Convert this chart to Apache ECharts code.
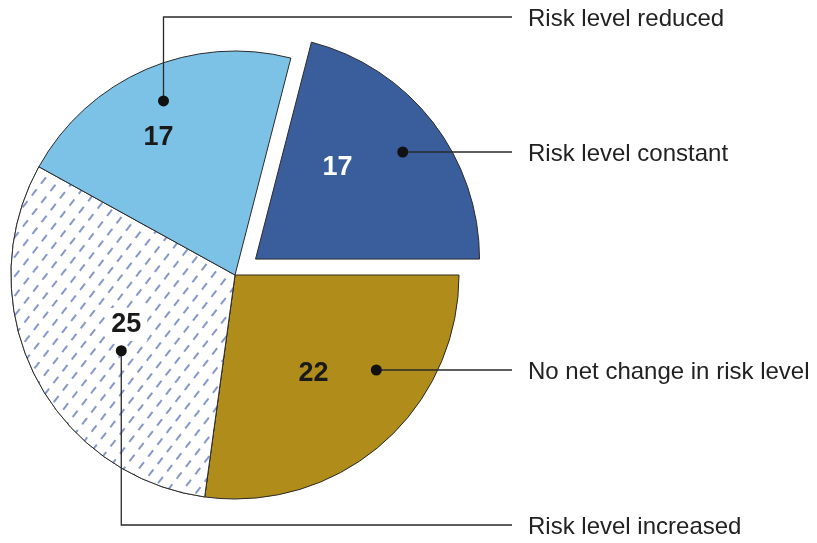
<!DOCTYPE html>
<html>
<head>
<meta charset="utf-8">
<script src="https://cdn.jsdelivr.net/npm/echarts@6/dist/echarts.min.js"></script>
<style>
  html, body { margin: 0; padding: 0; background: #fff; }
  #chart { width: 817px; height: 543px; }
</style>
</head>
<body>
<div id="chart"></div>
<script>
// slices in clockwise order, starting at 3 o'clock
var categories = ['No net change in risk level', 'Risk level increased', 'Risk level reduced', 'Risk level constant'];
var values = [22, 25, 17, 17];

var sliceColors = ['#b08c1b', '#ffffff', '#7cc2e6', '#3a5e9c'];
var labelColors = ['#1a1a1a', '#1a1a1a', '#1a1a1a', '#ffffff'];
// nudges for value labels from the default inside spot (applied on both layout passes)
var labelNudge = [[1.5, 6], [-3, -1], [-15.5, -16], [-9, -21.5]];
// dot anchor inside each slice: [angle offset from bisector (deg), radius fraction]
var dotAnchor = [[-15, 0.76], [-7, 0.61], [1, 0.84], [2, 0.81]];
// y of each category label / leader end
var labelY = [370, 525, 17, 152];
var leaderX = 512, textX = 528;
var explodeOffset = 26;

var chart = echarts.init(document.getElementById('chart'));

var hatch = {
  symbol: 'rect',
  symbolSize: 1,
  color: '#8797cc',
  backgroundColor: '#ffffff',
  dashArrayX: [8, 7],
  dashArrayY: [1.2, 10],
  rotation: -Math.PI * 0.29
};

var pieData = values.map(function (v, i) {
  var item = {
    name: categories[i],
    value: v,
    itemStyle: { color: sliceColors[i] },
    label: { color: labelColors[i] }
  };
  if (i === 1) {
    item.itemStyle.decal = hatch;
    item.label.backgroundColor = '#ffffff';
    item.label.padding = [3, 6];
  }
  if (i === 3) item.selected = true;
  return item;
});

var option = {
  animation: false,
  series: [{
    type: 'pie',
    center: [235, 275],
    radius: 224,
    startAngle: 0,
    clockwise: true,
    selectedMode: 'single',
    selectedOffset: explodeOffset,
    avoidLabelOverlap: false,
    silent: true,
    itemStyle: { borderColor: '#2a2a2a', borderWidth: 1 },
    label: {
      show: true,
      position: 'inside',
      formatter: '{c}',
      fontFamily: 'Liberation Sans, Arial, sans-serif',
      fontSize: 27,
      fontWeight: 'bold'
    },
    labelLayout: function (p) {
      var n = labelNudge[p.dataIndex];
      return { dx: n[0], dy: n[1] };
    },
    labelLine: { show: false },
    data: pieData
  }]
};
chart.setOption(option);

// leader lines, dots and category names, anchored on the pie's own layout
var data = chart.getModel().getSeriesByIndex(0).getData();
var graphics = [];
for (var i = 0; i < values.length; i++) {
  var L = data.getItemLayout(i);
  var mid = (L.startAngle + L.endAngle) / 2;
  var cx = L.cx, cy = L.cy;
  if (pieData[i].selected) {
    cx += Math.cos(mid) * explodeOffset;
    cy += Math.sin(mid) * explodeOffset;
  }
  var a = mid + dotAnchor[i][0] * Math.PI / 180;
  var px = cx + Math.cos(a) * L.r * dotAnchor[i][1];
  var py = cy + Math.sin(a) * L.r * dotAnchor[i][1];
  var pts;
  if (Math.abs(py - labelY[i]) < 25) {
    py = labelY[i];
    pts = [[px, py], [leaderX, py]];
  } else {
    pts = [[px, py], [px, labelY[i]], [leaderX, labelY[i]]];
  }
  graphics.push({
    type: 'polyline', silent: true, z: 10,
    shape: { points: pts },
    style: { fill: null, stroke: '#2a2a2a', lineWidth: 1.3 }
  });
  graphics.push({
    type: 'circle', silent: true, z: 11,
    shape: { cx: px, cy: py, r: 5.5 },
    style: { fill: '#111' }
  });
  graphics.push({
    type: 'text', silent: true, z: 11,
    x: textX, y: labelY[i] + 2,
    style: {
      text: categories[i],
      fill: '#222',
      font: '24px "Liberation Sans", Arial, sans-serif',
      verticalAlign: 'middle',
      align: 'left'
    }
  });
}
chart.setOption({ graphic: graphics });
</script>
</body>
</html>
